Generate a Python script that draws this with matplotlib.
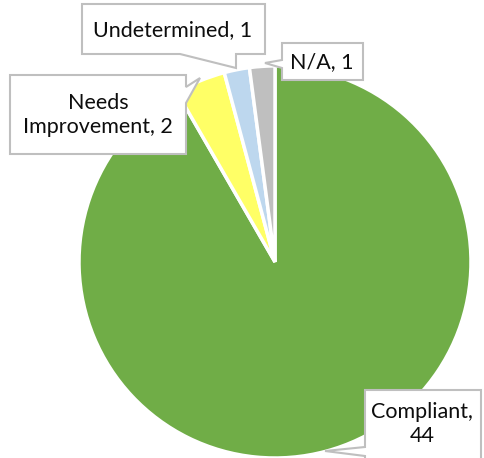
import matplotlib
matplotlib.use("Agg")
import matplotlib.pyplot as plt
from matplotlib.patches import Polygon

labels = ["Compliant", "Needs Improvement", "Undetermined", "N/A"]
values = [44, 2, 1, 1]
colors = ["#70AD47", "#FFFF66", "#BDD7EE", "#BFBFBF"]
explode = [0.0, 0.05, 0.05, 0.05]

W, H = 485, 458
fig = plt.figure(figsize=(W / 100, H / 100), dpi=100)
ax = fig.add_axes([0, 0, 1, 1])

cx, cy, r = 275, 262, 196
ax.pie(values, colors=colors, startangle=90, counterclock=False,
       explode=explode, center=(cx, H - cy), radius=r,
       wedgeprops=dict(edgecolor="white", linewidth=2.5), frame=True)
ax.set_xlim(0, W)
ax.set_ylim(0, H)
ax.set_aspect("equal")
ax.axis("off")

def Y(y):
    return H - y

def callout(pts, text, tx, ty):
    poly = Polygon([(x, Y(y)) for x, y in pts], closed=True, fc="white",
                   ec="#BFBFBF", lw=1.5, zorder=5)
    ax.add_patch(poly)
    ax.text(tx, Y(ty), text, ha="center", va="center", fontsize=15.5,
            family="Lato", color="#0D0D0D", zorder=6, linespacing=1.2)

# Undetermined
callout([(82, 4), (265, 4), (265, 54), (236, 54), (236, 68), (180, 54), (82, 54)],
        f"{labels[2]}, {values[2]}", 173, 30)
# N/A
callout([(282, 43), (363, 43), (363, 80), (282, 80), (282, 68), (265, 63), (282, 60)],
        f"{labels[3]}, {values[3]}", 322, 62)
# Needs Improvement
callout([(10, 75), (186, 75), (186, 87), (200, 78), (186, 103), (186, 154), (10, 154)],
        "Needs\nImprovement, " + str(values[1]), 98, 115)
# Compliant
callout([(365, 390), (481, 390), (481, 460), (365, 460), (365, 456), (325, 451), (365, 447)],
        "Compliant,\n" + str(values[0]), 422, 424)

fig.savefig("out.png", dpi=100)
